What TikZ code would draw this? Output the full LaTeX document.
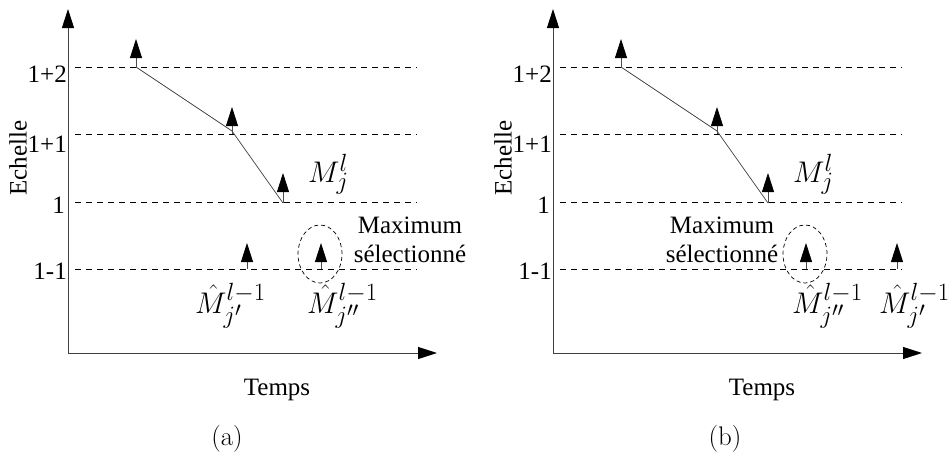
\documentclass[tikz,border=0pt]{standalone}
\usepackage{fontspec}
\newfontfamily\tmsfont{Liberation Serif}
\usetikzlibrary{arrows.meta,shapes.geometric}
\tikzset{
  axis/.style={line width=0.9pt, black!75, -{Triangle[length=19pt,width=12pt,color=black]}},
  hgrid/.style={line width=0.7pt, black, dash pattern=on 6pt off 5pt},
  vec/.style={line width=0.8pt, black!70, -{Triangle[length=19pt,width=12pt,color=black]}},
  link/.style={line width=0.7pt, black!75},
  sel/.style={draw, ellipse, line width=0.7pt, dash pattern=on 4pt off 3pt, minimum width=44pt, minimum height=58pt, inner sep=0},
  txt/.style={font=\tmsfont\fontsize{25}{30}\selectfont, inner sep=0},
  mth/.style={font=\fontsize{24.88}{30}\selectfont, inner sep=0, scale=1.2, transform shape},
  captxt/.style={font=\fontsize{24.88}{30}\selectfont, inner sep=0, scale=1.08, transform shape}
}
\newcommand\drawpanel[1]{%
  \coordinate (#1O) at (68,353);
  \coordinate (#1Y) at (68,9);
  \coordinate (#1X) at (437,353);
  \draw[axis] (#1O) -- (#1Y);
  \draw[axis] (#1O) -- (#1X);
  \foreach \yy/\nn in {67/a,134/b,202/c,269/d}{
    \coordinate (#1g\nn s) at (75,\yy);
    \coordinate (#1g\nn e) at (417,\yy);
    \draw[hgrid] (#1g\nn s) -- (#1g\nn e);
  }
  \node[txt, anchor=north east] (#1l2) at (67,66) {1+2};
  \node[txt, anchor=north east] (#1l1) at (67,136) {1+1};
  \node[txt, anchor=east] (#1l0) at (65,205) {1};
  \node[txt, anchor=east] (#1lm) at (67,271) {1-1};
  \node[txt, rotate=90] (#1ech) at (18,158) {Echelle};
  \node[txt, anchor=base] (#1tps) at (277,395) {Temps};
  \coordinate (#1p1) at (136,67);
  \coordinate (#1p1t) at (136,39);
  \coordinate (#1k) at (232,131);
  \coordinate (#1p2) at (232,134);
  \coordinate (#1p2t) at (232,107);
  \coordinate (#1p3) at (283,203);
  \coordinate (#1p3t) at (283,173);
  \draw[link] (#1p1) -- (#1k) -- (#1p3);
  \draw[vec] (#1p1) -- (#1p1t);
  \draw[vec] (#1p2) -- (#1p2t);
  \draw[vec] (#1p3) -- (#1p3t);
  \node[mth, anchor=base west] (#1Mj) at (308,182) {$M_j^l$};
  \coordinate (#1c) at (321,269);
  \coordinate (#1ct) at (321,243);
  \draw[vec] (#1c) -- (#1ct);
  \node[sel] (#1el) at (320,254) {};
  \node[mth, anchor=base west] (#1Mjj) at (307,313) {$\hat{M}_{j''}^{l-1}$};
}
\begin{document}
\begin{tikzpicture}[x=1pt,y=-1pt]
\useasboundingbox (0,0) rectangle (948,461);
% panel (a)
\begin{scope}
  \drawpanel{a}
  \coordinate (ad) at (247,269);
  \coordinate (adt) at (247,243);
  \draw[vec] (ad) -- (adt);
  \node[mth, anchor=base west] (aMj1) at (195,313) {$\hat{M}_{j'}^{l-1}$};
  \node[txt, anchor=base] (amax1) at (410,233) {Maximum};
  \node[txt, anchor=base] (amax2) at (410,262) {sélectionné};
\end{scope}
\node[captxt] (capa) at (227,439) {(a)};
% panel (b)
\begin{scope}[xshift=485pt]
  \drawpanel{b}
  \coordinate (bd) at (412,269);
  \coordinate (bdt) at (412,243);
  \draw[vec] (bd) -- (bdt);
  \node[mth, anchor=base west] (bMj1) at (394,313) {$\hat{M}_{j'}^{l-1}$};
  \node[txt, anchor=base] (bmax1) at (237,233) {Maximum};
  \node[txt, anchor=base] (bmax2) at (237,262) {sélectionné};
\end{scope}
\node[captxt] (capb) at (725,439) {(b)};
\end{tikzpicture}
\end{document}
